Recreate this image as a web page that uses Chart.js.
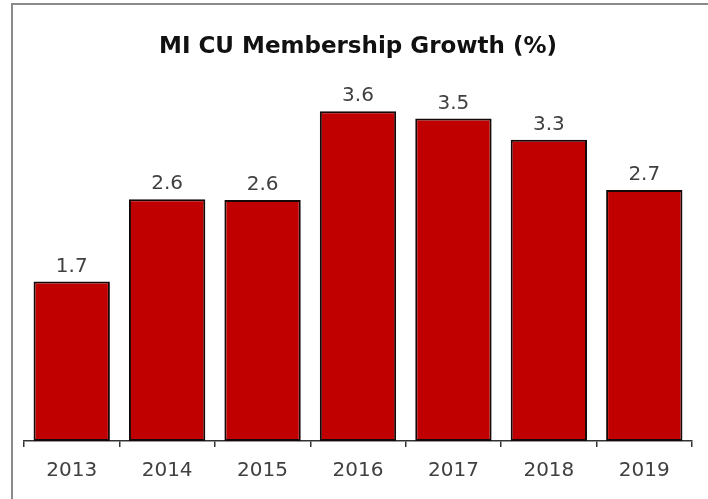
<!DOCTYPE html>
<html>
<head>
<meta charset="utf-8">
<script src="https://cdn.jsdelivr.net/npm/chart.js@4"></script>
<style>
  html, body { margin: 0; padding: 0; background: #ffffff; overflow: hidden; }
  #wrap { position: absolute; left: 0; top: 0; width: 708px; height: 499px; }
  #frame { position: absolute; left: 11px; top: 3px; width: 720px; height: 520px;
           border-left: 2px solid #8a8a8a; border-top: 2px solid #8a8a8a; box-sizing: border-box; pointer-events: none; }
  canvas { position: absolute; left: 0; top: 0; }
</style>
</head>
<body>
<div id="wrap">
  <canvas id="c" width="708" height="499"></canvas>
  <div id="frame"></div>
</div>
<script>
const categories = ["2013", "2014", "2015", "2016", "2017", "2018", "2019"];
const growth = [1.74, 2.64, 2.63, 3.6, 3.52, 3.29, 2.74];
const chartTitle = "MI CU Membership Growth (%)";

const valueLabels = {
  id: 'valueLabels',
  afterDatasetsDraw(chart) {
    const ctx = chart.ctx;
    const meta = chart.getDatasetMeta(0);
    ctx.save();
    ctx.font = '20px "DejaVu Sans"';
    ctx.fillStyle = '#404040';
    ctx.textAlign = 'center';
    ctx.textBaseline = 'middle';
    meta.data.forEach((bar, i) => {
      const v = chart.data.datasets[0].data[i];
      ctx.fillText(v.toFixed(1), bar.x, bar.y - 15);
    });
    ctx.restore();
  }
};

new Chart(document.getElementById('c'), {
  type: 'bar',
  data: {
    labels: categories,
    datasets: [{
      data: growth,
      backgroundColor: '#C00000',
      borderColor: '#140808',
      borderWidth: 2,
      borderSkipped: false,
      barPercentage: 0.8,
      categoryPercentage: 1.0
    }]
  },
  options: {
    responsive: false,
    animation: false,
    devicePixelRatio: 1,
    layout: { padding: { left: 24, right: 16, top: 0, bottom: 4 } },
    plugins: {
      legend: { display: false },
      tooltip: { enabled: false },
      title: {
        display: true,
        text: chartTitle,
        color: '#111111',
        font: { family: '"DejaVu Sans"', size: 23, weight: 'bold' },
        padding: { top: 33, bottom: 14 }
      }
    },
    scales: {
      x: {
        grid: { display: true, drawOnChartArea: false, drawTicks: true, tickLength: 6, color: '#333333', lineWidth: 1.5, offset: true },
        border: { display: true, color: '#333333', width: 1.5 },
        ticks: { color: '#404040', font: { family: '"DejaVu Sans"', size: 20 }, padding: 12 }
      },
      y: {
        display: false,
        min: 0,
        max: 4
      }
    }
  },
  plugins: [valueLabels]
});
</script>
</body>
</html>
